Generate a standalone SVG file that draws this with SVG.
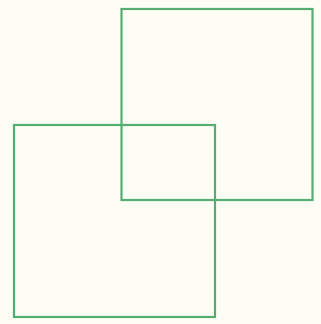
<svg xmlns="http://www.w3.org/2000/svg" width="321" height="324" viewBox="0 0 321 324">
<style>.sq{fill:none;stroke:#55ad74;stroke-width:2.2;stroke-linecap:square}</style>
<rect width="321" height="324" fill="#fdfdf4"/>
<g id="square-a"><rect class="sq" x="121.5" y="9" width="191" height="191"/></g>
<g id="square-b"><rect class="sq" x="14" y="125" width="201" height="192"/></g>
</svg>
